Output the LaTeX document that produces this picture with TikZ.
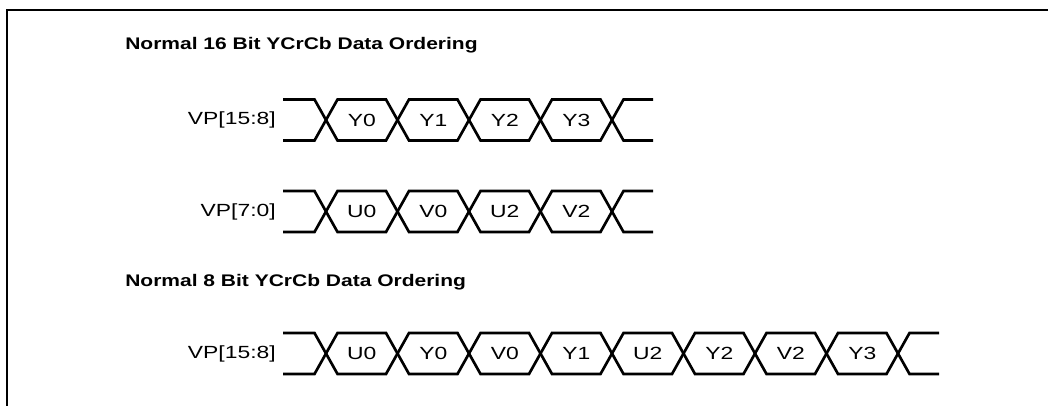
\documentclass[tikz,border=0pt]{standalone}
\usepackage{fontspec}
\usepackage{graphicx}
\setmainfont{Liberation Sans}
\newcommand{\hwide}[1]{\scalebox{1.25}[1]{#1}}
\newcommand{\lwide}[1]{\scalebox{1.3}[1]{#1}}

\begin{document}
\begin{tikzpicture}[x=0.75pt, y=-0.75pt,
    sig/.style={line width=2pt},
    frame/.style={line width=1.5pt},
    title/.style={anchor=west, inner sep=0pt, font=\bfseries\fontsize{12.6}{15}\selectfont},
    txt/.style={inner sep=0pt, font=\fontsize{13.2}{15}\selectfont}]
  \useasboundingbox (0,0) rectangle (1048,406);
  \draw[frame] (7,406) -- (7,10) -- (1048,10);

  \node[title] (t16) at (125,45) {\hwide{Normal 16 Bit YCrCb Data Ordering}};
  \node[title] (t8) at (125,282) {\hwide{Normal 8 Bit YCrCb Data Ordering}};

  % bus rows: name / centre / cells / label / data
  \foreach \row/\yc/\n/\lab/\cells in {hi/120/4/{VP[15:8]}/{Y0,Y1,Y2,Y3},
      lo/211.5/4/{VP[7:0]}/{U0,V0,U2,V2},
      all/353.5/8/{VP[15:8]}/{U0,Y0,V0,Y1,U2,Y2,V2,Y3}} {
    \pgfmathsetmacro\yt{\yc-20.5}
    \pgfmathsetmacro\yb{\yc+20.5}
    \pgfmathsetmacro\xe{326+\n*71.5}
    \node[txt, anchor=east] (\row-name) at (276,\yc) {\lwide{\lab}};
    \draw[sig] (283,\yt) -- (314.5,\yt) -- (326,\yc) -- (314.5,\yb) -- (283,\yb);
    \draw[sig] (\xe+41,\yt) -- (\xe+11.5,\yt) -- (\xe,\yc) -- (\xe+11.5,\yb) -- (\xe+41,\yb);
    \foreach \c [count=\i from 0] in \cells {
      \pgfmathsetmacro\xa{326+\i*71.5}
      \pgfmathsetmacro\xb{\xa+71.5}
      \draw[sig] (\xa,\yc) -- (\xa+11.5,\yt) -- (\xb-11.5,\yt) -- (\xb,\yc)
        -- (\xb-11.5,\yb) -- (\xa+11.5,\yb) -- cycle;
      \node[txt] (\row-\i) at ({(\xa+\xb)/2},\yc) {\lwide{\c}};
    }
  }
\end{tikzpicture}
\end{document}
